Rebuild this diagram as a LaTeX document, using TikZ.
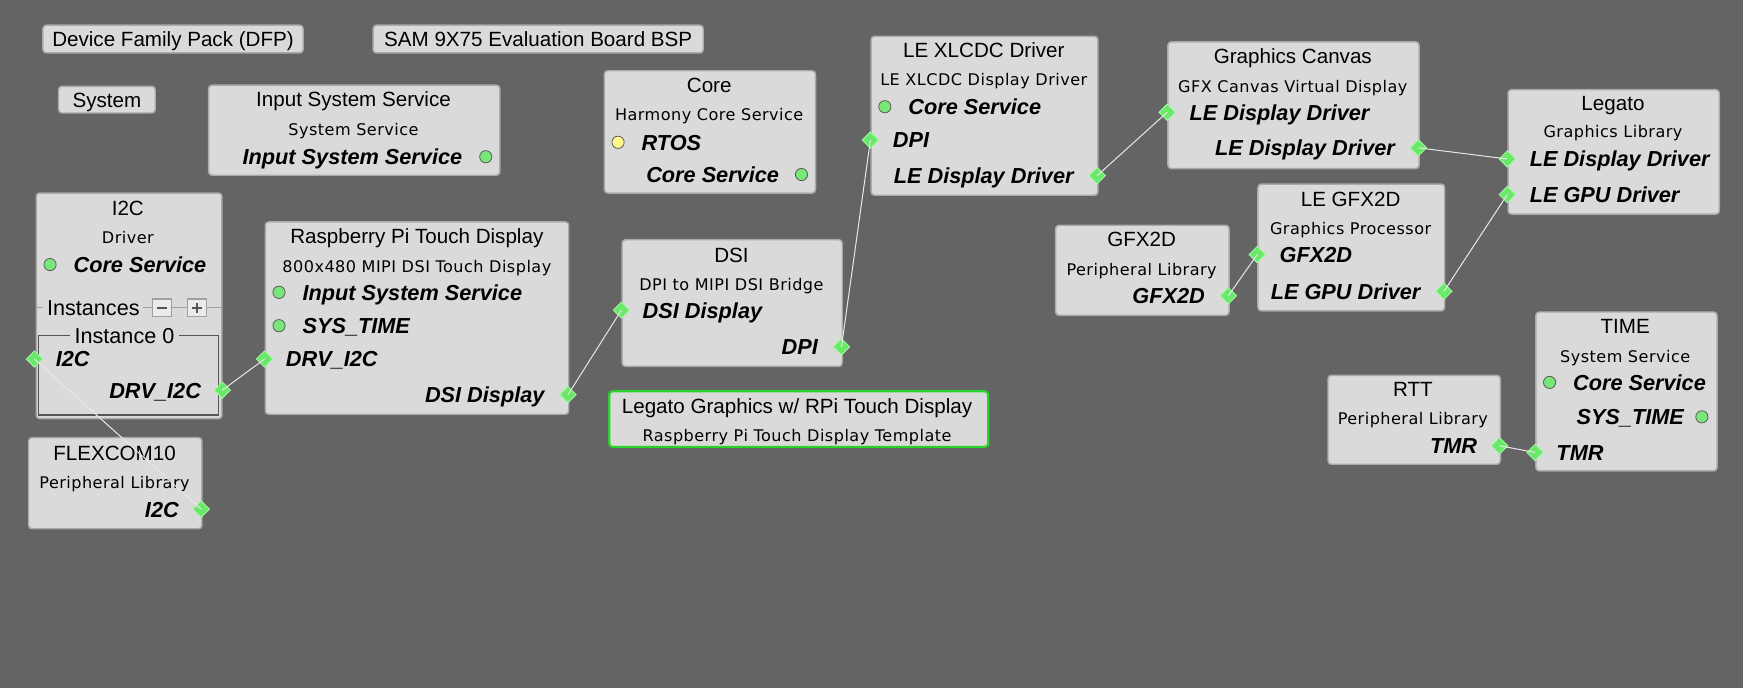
\documentclass[tikz,border=0pt]{standalone}
\usepackage{fontspec}
\setmainfont{Liberation Sans}
\newfontfamily\subfont[LetterSpace=3]{DejaVu Sans}
\usetikzlibrary{shapes.geometric}
\definecolor{bg}{RGB}{100,100,100}
\definecolor{boxfill}{RGB}{218,218,218}
\definecolor{boxline}{RGB}{170,170,170}
\definecolor{portgreen}{RGB}{105,232,105}
\definecolor{portedge}{RGB}{165,250,165}
\definecolor{dotgreen}{RGB}{120,230,120}
\definecolor{dotyellow}{RGB}{255,248,140}
\definecolor{wirecol}{RGB}{232,232,232}
\definecolor{tplgreen}{RGB}{40,210,40}
\definecolor{framecol}{RGB}{85,85,85}
\definecolor{btnline}{RGB}{160,160,160}
\tikzset{
  box/.style={draw=boxline, fill=boxfill, line width=1.3bp, rounded corners=3bp, anchor=north west, inner sep=0},
  ttl/.style={font=\fontsize{18.6}{20}\selectfont, inner sep=0, anchor=mid, yshift=-4.5bp},
  sub/.style={font=\subfont\fontsize{14.5}{16}\selectfont, inner sep=0, anchor=mid, yshift=-4.5bp},
  lbl/.style={font=\bfseries\itshape\fontsize{19.6}{22}\selectfont, inner sep=0, yshift=-4.5bp},
  lblr/.style={lbl, anchor=mid east},
  lbll/.style={lbl, anchor=mid west},
  port/.style={diamond, fill=portgreen, draw=portedge, line width=0.7bp, inner sep=0, minimum width=15bp, minimum height=15bp},
  dot/.style={circle, fill=dotgreen, draw=black!65, line width=0.7bp, inner sep=0, minimum size=11bp},
  ydot/.style={dot, fill=dotyellow},
  wire/.style={draw=wirecol, line width=0.9bp},
  gline/.style={draw=btnline, line width=1bp},
  btn/.style={draw=btnline, fill=black!8, line width=1bp},
}
\begin{document}
\begin{tikzpicture}[x=1bp,y=-1bp]
\useasboundingbox (0,0) rectangle (1568,619);
\fill[bg] (0,0) rectangle (1568,619);

% simple boxes
\node[box, minimum width=234bp, minimum height=25bp] (dfp) at (38,22) {};
\node[ttl] (dfpt) at (dfp.center) {Device Family Pack (DFP)};
\node[box, minimum width=297bp, minimum height=25bp] (sam) at (335,22) {};
\node[ttl] (samt) at (sam.center) {SAM 9X75 Evaluation Board BSP};
\node[box, minimum width=87bp, minimum height=24bp] (sys) at (52,77) {};
\node[ttl] (syst) at (sys.center) {System};

% Input System Service
\node[box, minimum width=262bp, minimum height=81bp] (iss) at (187,76) {};
\node[ttl] (isst) at (318,89) {Input System Service};
\node[sub] (isss) at (318,115) {System Service};
\node[lblr] (issl) at (416,141) {Input System Service};
\node[dot] (issd) at (437,141) {};

% Core
\node[box, minimum width=190bp, minimum height=110bp] (core) at (543,63) {};
\node[ttl] (coret) at (638,76) {Core};
\node[sub] (cores) at (638,101) {Harmony Core Service};
\node[ydot] (corey) at (556,128) {};
\node[lbll] (corer) at (577,128) {RTOS};
\node[lblr] (corel) at (701,157) {Core Service};
\node[dot] (cored) at (721,157) {};

% I2C
\node[box, minimum width=167bp, minimum height=203bp] (i2c) at (32,173) {};
\node[ttl] (i2ct) at (115,187) {I2C};
\node[sub] (i2cs) at (115,212) {Driver};
\node[dot] (i2cd) at (45,238) {};
\node[lbll] (i2cl) at (66,238) {Core Service};
\draw[gline] (32,277) -- (39,277);
\node[ttl, font=\fontsize{19.5}{21}\selectfont] (inst) at (84,277) {Instances};
\draw[gline] (129,277) -- (137,277);
\draw[btn] (137,269) rectangle (154,285);
\draw[framecol, line width=2bp] (141,277) -- (150,277);
\draw[gline] (154,277) -- (169,277);
\draw[btn] (169,269) rectangle (186,285);
\draw[framecol, line width=2bp] (173,277) -- (182,277) (177.5,272.5) -- (177.5,281.5);
\draw[gline] (186,277) -- (199,277);
\draw[framecol, line width=1.4bp] (63,302) -- (34.5,302) -- (34.5,373.5) -- (196.5,373.5) -- (196.5,302) -- (161,302);
\node[ttl, font=\fontsize{19.5}{21}\selectfont] (inst0) at (112,302) {Instance 0};
\node[port] (i2cp) at (31,323) {};
\node[lbll] (i2cpl) at (50,323) {I2C};
\node[lblr] (drvl) at (181,351) {DRV\_I2C};
\node[port] (drvp) at (200,351) {};

% FLEXCOM10
\node[box, minimum width=156bp, minimum height=82bp] (flex) at (25,393) {};
\node[ttl] (flext) at (103,407) {FLEXCOM10};
\node[sub] (flexs) at (103,432) {Peripheral Library};
\node[lblr] (flexl) at (161,458) {I2C};
\node[port] (flexp) at (181,458) {};

% Raspberry Pi
\node[box, minimum width=273bp, minimum height=173bp] (rpi) at (238,199) {};
\node[ttl] (rpit) at (375,212) {Raspberry Pi Touch Display};
\node[sub] (rpis) at (375,238) {800x480 MIPI DSI Touch Display};
\node[dot] (rpid1) at (251,263) {};
\node[lbll] (rpil1) at (272,263) {Input System Service};
\node[dot] (rpid2) at (251,293) {};
\node[lbll] (rpil2) at (272,293) {SYS\_TIME};
\node[port] (rpidrv) at (238,323) {};
\node[lbll] (rpil3) at (257,323) {DRV\_I2C};
\node[lblr] (rpil4) at (490,355) {DSI Display};
\node[port] (rpidsi) at (511,355) {};

% DSI
\node[box, minimum width=198bp, minimum height=114bp] (dsi) at (559,215) {};
\node[ttl] (dsit) at (658,229) {DSI};
\node[sub] (dsis) at (658,254) {DPI to MIPI DSI Bridge};
\node[port] (dsiin) at (559,279) {};
\node[lbll] (dsil1) at (578,279) {DSI Display};
\node[lblr] (dsil2) at (736,312) {DPI};
\node[port] (dsidpi) at (757,312) {};

% Template
\node[box, draw=tplgreen, line width=2bp, minimum width=341bp, minimum height=50bp] (tpl) at (547,351) {};
\node[ttl] (tplt) at (717,365) {Legato Graphics w/ RPi Touch Display};
\node[sub] (tpls) at (717,390) {Raspberry Pi Touch Display Template};

% LE XLCDC
\node[box, minimum width=204bp, minimum height=143bp] (xl) at (783,32) {};
\node[ttl] (xlt) at (885,45) {LE XLCDC Driver};
\node[sub] (xls) at (885,70) {LE XLCDC Display Driver};
\node[dot] (xld) at (796,96) {};
\node[lbll] (xll1) at (817,96) {Core Service};
\node[port] (xldpi) at (783,126) {};
\node[lbll] (xll2) at (803,126) {DPI};
\node[lblr] (xll3) at (966,158) {LE Display Driver};
\node[port] (xlout) at (987,158) {};

% Graphics Canvas
\node[box, minimum width=226bp, minimum height=114bp] (cv) at (1050,37) {};
\node[ttl] (cvt) at (1163,50) {Graphics Canvas};
\node[sub] (cvs) at (1163,76) {GFX Canvas Virtual Display};
\node[port] (cvin) at (1050,101) {};
\node[lbll] (cvl1) at (1070,101) {LE Display Driver};
\node[lblr] (cvl2) at (1255,133) {LE Display Driver};
\node[port] (cvout) at (1276,133) {};

% Legato
\node[box, minimum width=190bp, minimum height=112bp] (lg) at (1356,80) {};
\node[ttl] (lgt) at (1451,92) {Legato};
\node[sub] (lgs) at (1451,117) {Graphics Library};
\node[port] (lgdd) at (1356,143) {};
\node[lbll] (lgl1) at (1376,143) {LE Display Driver};
\node[port] (lggpu) at (1356,175) {};
\node[lbll] (lgl2) at (1376,175) {LE GPU Driver};

% LE GFX2D
\node[box, minimum width=168bp, minimum height=114bp] (lgx) at (1131,165) {};
\node[ttl] (lgxt) at (1215,179) {LE GFX2D};
\node[sub] (lgxs) at (1215,204) {Graphics Processor};
\node[port] (lgxin) at (1131,229) {};
\node[lbll] (lgxl1) at (1151,229) {GFX2D};
\node[lblr] (lgxl2) at (1278,262) {LE GPU Driver};
\node[port] (lgxout) at (1299,262) {};

% GFX2D
\node[box, minimum width=156bp, minimum height=81bp] (gfx) at (949,202) {};
\node[ttl] (gfxt) at (1027,215) {GFX2D};
\node[sub] (gfxs) at (1027,241) {Peripheral Library};
\node[lblr] (gfxl) at (1084,266) {GFX2D};
\node[port] (gfxp) at (1105,266) {};

% RTT
\node[box, minimum width=155bp, minimum height=80bp] (rtt) at (1194,337) {};
\node[ttl] (rttt) at (1271,350) {RTT};
\node[sub] (rtts) at (1271,375) {Peripheral Library};
\node[lblr] (rttl) at (1329,401) {TMR};
\node[port] (rttp) at (1349,401) {};

% TIME
\node[box, minimum width=163bp, minimum height=143bp] (tm) at (1381,280) {};
\node[ttl] (tmt) at (1462,293) {TIME};
\node[sub] (tms) at (1462,319) {System Service};
\node[dot] (tmd1) at (1394,344) {};
\node[lbll] (tml1) at (1415,344) {Core Service};
\node[lblr] (tml2) at (1515,375) {SYS\_TIME};
\node[dot] (tmd2) at (1531,375) {};
\node[port] (tmp) at (1381,407) {};
\node[lbll] (tml3) at (1400,407) {TMR};

% connectors
\draw[wire] (flexp.center) -- (i2cp.center);
\draw[wire] (drvp.center) -- (rpidrv.center);
\draw[wire] (rpidsi.center) -- (dsiin.center);
\draw[wire] (dsidpi.center) -- (xldpi.center);
\draw[wire] (xlout.center) -- (cvin.center);
\draw[wire] (cvout.center) -- (lgdd.center);
\draw[wire] (gfxp.center) -- (lgxin.center);
\draw[wire] (lgxout.center) -- (lggpu.center);
\draw[wire] (rttp.center) -- (tmp.center);
\end{tikzpicture}
\end{document}
